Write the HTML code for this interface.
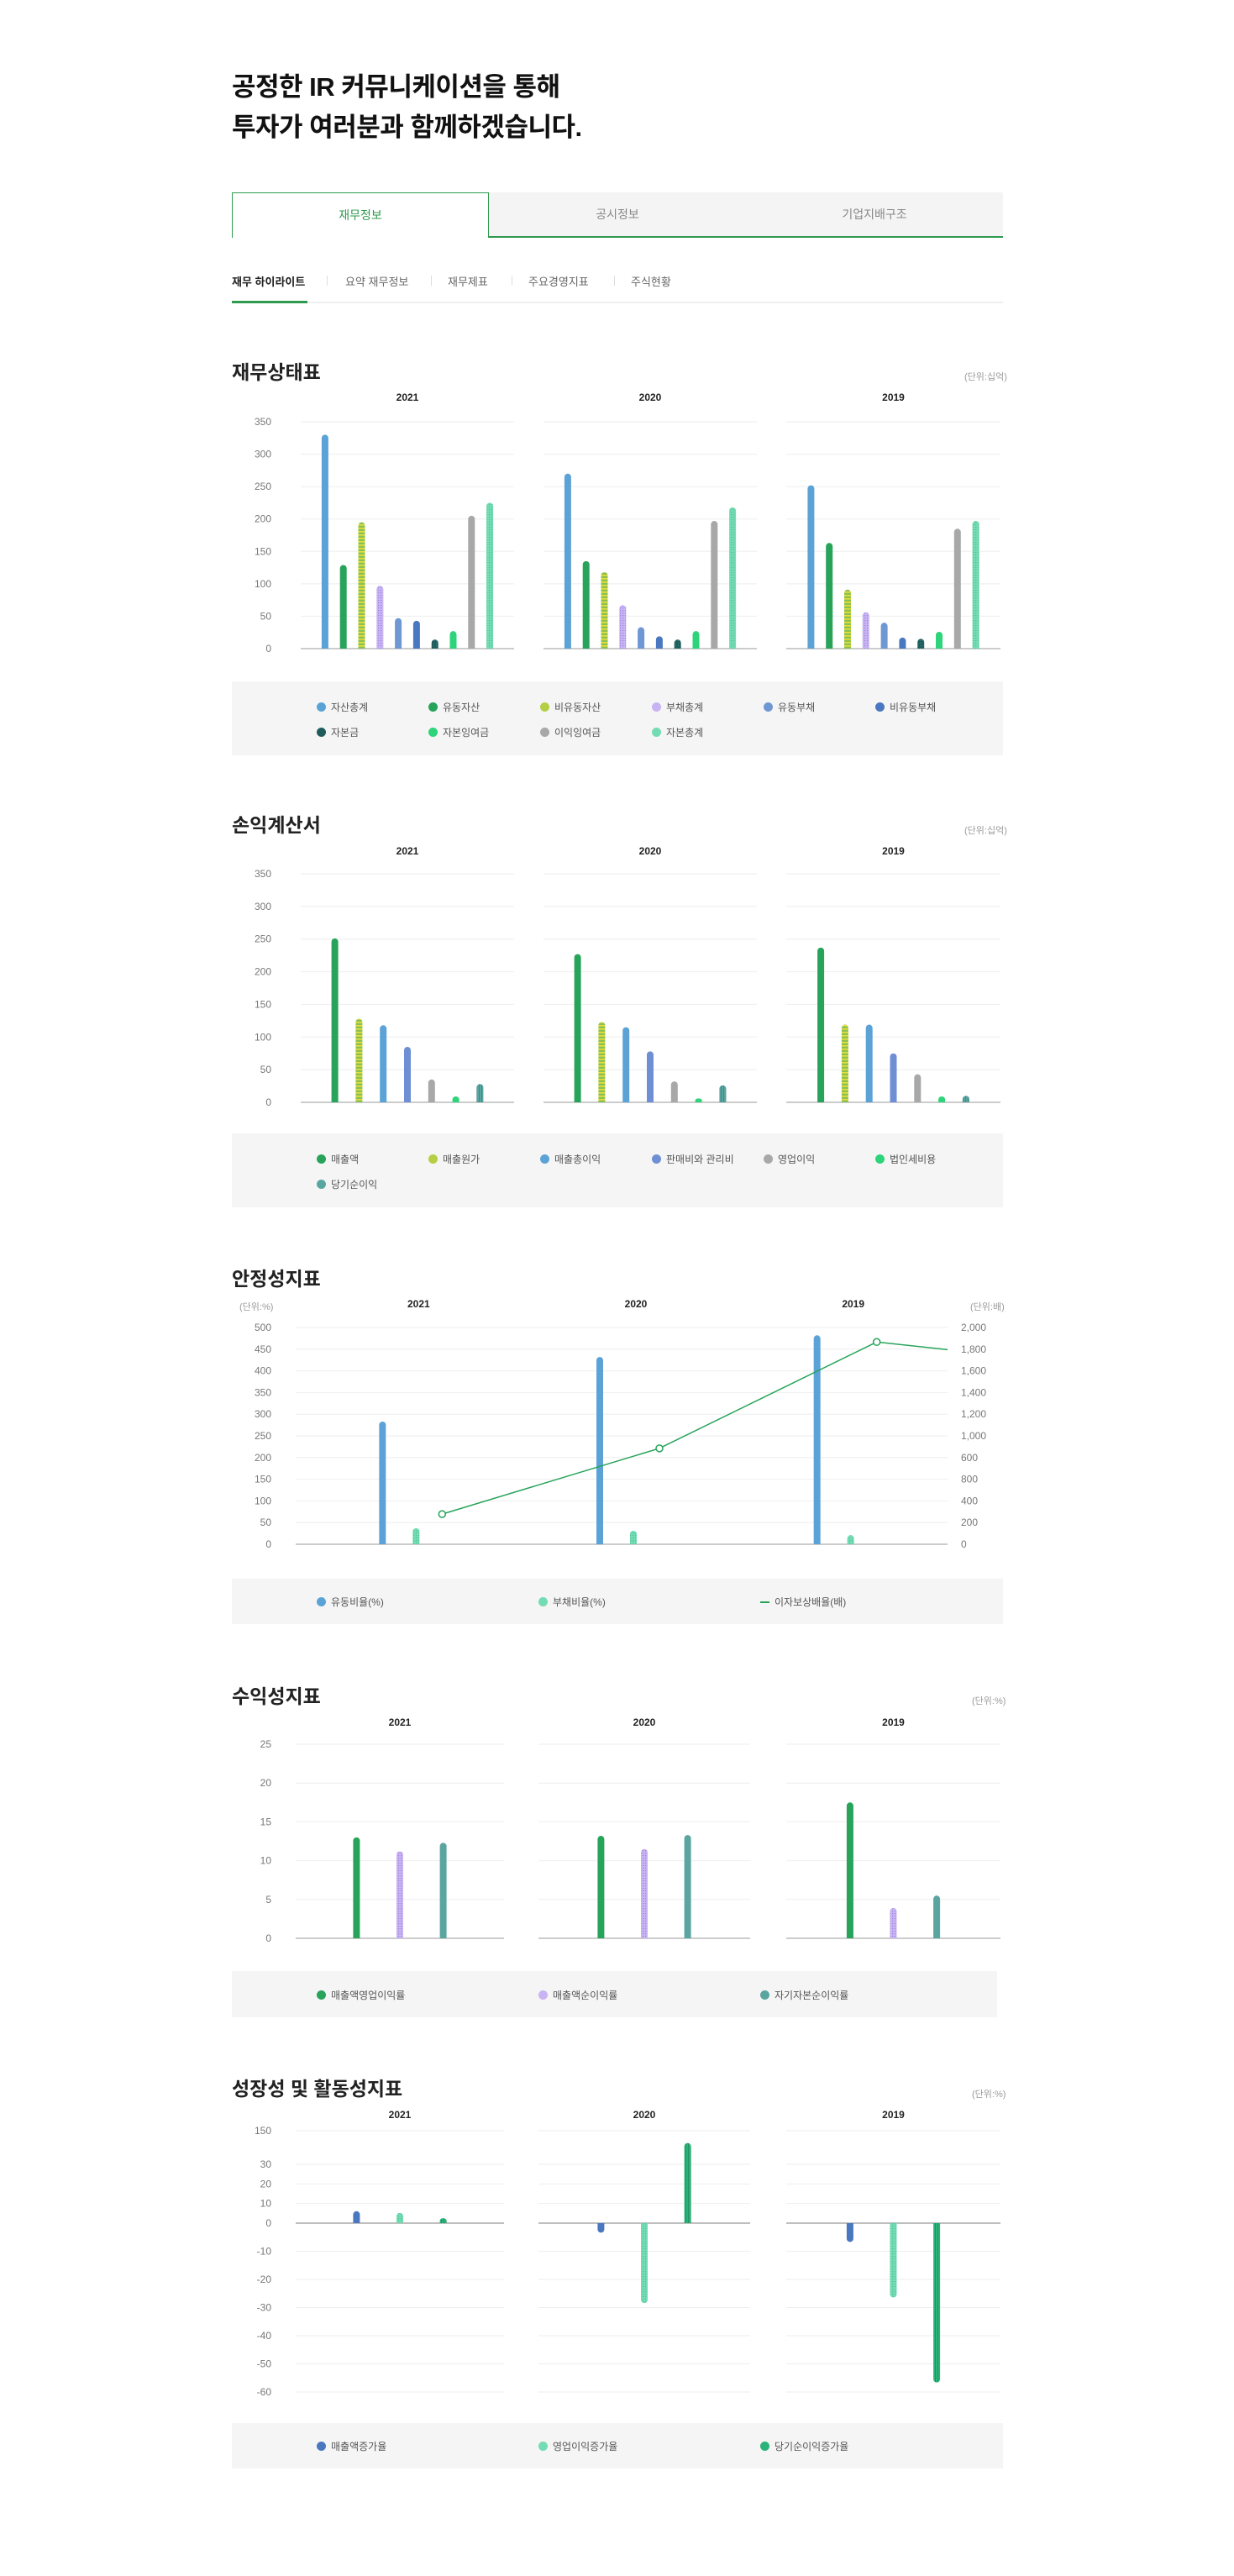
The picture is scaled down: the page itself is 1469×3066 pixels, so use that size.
<!DOCTYPE html>
<html lang="ko"><head><meta charset="utf-8"><title>IR 재무정보</title>
<style>
*{margin:0;padding:0;box-sizing:border-box}
body{width:1469px;height:3066px;background:#fff;font-family:"Liberation Sans","Noto Sans CJK KR",sans-serif;position:relative;overflow:hidden;color:#222}
.abs{position:absolute}
.h1{left:276px;font-size:31px;font-weight:bold;color:#111;letter-spacing:-0.5px;white-space:nowrap}
.tab{position:absolute;top:229px;height:54px;line-height:52px;text-align:center;font-size:14px;color:#888;background:#f4f4f4;border-bottom:2px solid #2e9a4e}
.tab.on{background:#fff;color:#2e9a4e;border:1px solid #2e9a4e;border-bottom:none}
.sub{position:absolute;top:325px;font-size:13px;color:#666;white-space:nowrap}
.sep{position:absolute;top:328px;width:1px;height:12px;background:#ddd}
.stitle{position:absolute;left:276px;font-size:23px;font-weight:bold;color:#222;white-space:nowrap}
.unit{position:absolute;font-size:11px;color:#999;white-space:nowrap}
.legend{position:absolute;left:276px;width:918px;background:#f5f5f5}
.li{position:absolute;font-size:12px;color:#555;white-space:nowrap;line-height:14px}
.li i{display:inline-block;width:11px;height:11px;border-radius:50%;vertical-align:-1px;margin-right:6px}
svg{position:absolute;left:0;top:0}
</style></head><body>
<div class="abs h1" style="top:78px">공정한 IR 커뮤니케이션을 통해</div>
<div class="abs h1" style="top:126px">투자가 여러분과 함께하겠습니다.</div>

<div class="tab on" style="left:276px;width:306px">재무정보</div>
<div class="tab" style="left:582px;width:306px">공시정보</div>
<div class="tab" style="left:888px;width:306px">기업지배구조</div>

<div class="sub" style="left:276px;color:#222;font-weight:bold">재무 하이라이트</div>
<div class="sep" style="left:389px"></div>
<div class="sub" style="left:411px">요약 재무정보</div>
<div class="sep" style="left:513px"></div>
<div class="sub" style="left:533px">재무제표</div>
<div class="sep" style="left:609px"></div>
<div class="sub" style="left:629px">주요경영지표</div>
<div class="sep" style="left:731px"></div>
<div class="sub" style="left:751px">주식현황</div>
<div class="abs" style="left:276px;top:359px;width:918px;height:2px;background:#f0f0f0"></div>
<div class="abs" style="left:276px;top:358px;width:90px;height:3px;background:#2e9a4e"></div>

<div class="stitle" style="top:424px">재무상태표</div>
<div class="unit" style="left:1148px;top:440px">(단위:십억)</div>
<div class="legend" style="top:811px;height:88px"></div>

<div class="stitle" style="top:963px">손익계산서</div>
<div class="unit" style="left:1148px;top:980px">(단위:십억)</div>
<div class="legend" style="top:1349px;height:88px"></div>

<div class="stitle" style="top:1503px">안정성지표</div>
<div class="unit" style="left:285px;top:1547px">(단위:%)</div>
<div class="unit" style="left:1155px;top:1547px">(단위:배)</div>
<div class="legend" style="top:1879px;height:54px"></div>

<div class="stitle" style="top:2000px">수익성지표</div>
<div class="unit" style="left:1157px;top:2016px">(단위:%)</div>
<div class="legend" style="top:2346px;height:55px;width:911px"></div>

<div class="stitle" style="top:2467px">성장성 및 활동성지표</div>
<div class="unit" style="left:1157px;top:2484px">(단위:%)</div>
<div class="legend" style="top:2884px;height:54px"></div>

<svg id="chart" width="1469" height="3066">
<defs>
<pattern id="pStripe" width="8" height="4" patternUnits="userSpaceOnUse"><rect width="8" height="4" fill="#8cc152"/><rect width="8" height="1.6" fill="#e5df3a"/></pattern>
<pattern id="pDotP" width="3" height="3" patternUnits="userSpaceOnUse"><rect width="3" height="3" fill="#c8b4f2"/><rect width="1.2" height="1.2" fill="#9d80e0"/></pattern>
<pattern id="pDotT" width="3" height="3" patternUnits="userSpaceOnUse"><rect width="3" height="3" fill="#74dcb4"/><rect width="1.2" height="1.2" fill="#4cc293"/></pattern>
<pattern id="pDarkT" width="3" height="3" patternUnits="userSpaceOnUse"><rect width="3" height="3" fill="#1f5c5c"/><rect width="1.2" height="1.2" fill="#3c8080"/></pattern>
<pattern id="pVTeal" width="3" height="3" patternUnits="userSpaceOnUse"><rect width="3" height="3" fill="#5aa5a0"/><rect width="1" height="3" fill="#3f8a86"/></pattern>
<pattern id="pVGreen" width="3" height="3" patternUnits="userSpaceOnUse"><rect width="3" height="3" fill="#2bb37a"/><rect width="1" height="3" fill="#1e9662"/></pattern>
</defs>
</svg>

<script>
// ---------- data ----------
const years = ["2021","2020","2019"];

const bsSeries = ["자산총계","유동자산","비유동자산","부채총계","유동부채","비유동부채","자본금","자본잉여금","이익잉여금","자본총계"];
const bs2021 = [330,129,195,97,47,43,14,27,205,225];
const bs2020 = [270,135,118,67,33,19,14,27,197,218];
const bs2019 = [252,163,91,56,40,17,15,26,185,197];
const bsTicks = [0,50,100,150,200,250,300,350];

const isSeries = ["매출액","매출원가","매출총이익","판매비와 관리비","영업이익","법인세비용","당기순이익"];
const is2021 = [251,128,118,85,35,9,28];
const is2020 = [227,123,115,78,32,6,26];
const is2019 = [237,119,119,75,43,9,10];
const isTicks = [0,50,100,150,200,250,300,350];

const stCats = ["2021","2020","2019","2018"];
const stCurrent = [283,432,482];
const stDebt = [37,31,21];
const stCoverage = [278,885,1866,1650];
const stLeftTicks = [0,50,100,150,200,250,300,350,400,450,500];
const stRightTicks = ["0","200","400","800","600","1,000","1,200","1,400","1,600","1,800","2,000"];

const prSeries = ["매출액영업이익률","매출액순이익률","자기자본순이익률"];
const pr2021 = [13.0,11.2,12.3];
const pr2020 = [13.2,11.5,13.3];
const pr2019 = [17.5,3.9,5.5];
const prTicks = [0,5,10,15,20,25];

const grSeries = ["매출액증가율","영업이익증가율","당기순이익증가율"];
const gr2021 = [6.1,5.2,2.5];
const gr2020 = [-3.4,-28.4,106];
const gr2019 = [-6.7,-26.4,-56.6];
const grTicks = [150,30,20,10,0,-10,-20,-30,-40,-50,-60];

// ---------- helpers ----------
const NS="http://www.w3.org/2000/svg";
const svg=document.getElementById('chart');
function mk(tag,attrs){const e=document.createElementNS(NS,tag);for(const k in attrs)e.setAttribute(k,attrs[k]);svg.appendChild(e);return e;}
function linScale(y0,y1,vmax){return v=>y0-(v/vmax)*(y0-y1);}
function bar(x,yTop,yBase,w,fill,name){
  const top=Math.min(yTop,yBase),h=Math.abs(yBase-yTop);
  const r=Math.min(w/2,h/2);
  let d;
  if(yTop<=yBase){d=`M${x-w/2},${yBase}V${top+r}A${w/2},${r} 0 0 1 ${x+w/2},${top+r}V${yBase}Z`;}
  else{d=`M${x-w/2},${yBase}V${yTop-r}A${w/2},${r} 0 0 0 ${x+w/2},${yTop-r}V${yBase}Z`;}
  const p=mk('path',{d:d,fill:fill});
  
  
  return p;
}
function text(x,y,s,size,fill,anchor,weight,name){
  const t=mk('text',{x:x,y:y,'font-size':size,fill:fill,'text-anchor':anchor,'font-weight':weight||'normal','font-family':'"Liberation Sans","Noto Sans CJK KR",sans-serif'});
  t.textContent=s;
  
  
  return t;
}
function hline(x1,x2,y,c,w,name){
  const l=mk('line',{x1:x1,x2:x2,y1:y,y2:y,stroke:c,'stroke-width':w});
  
  
}
function legend(items,colors,cols,top,rowH,stepX,startX){
  items.forEach((s,i)=>{
    const d=document.createElement('div');
    d.className='li';
    
    
    d.style.left=(startX+(i%cols)*stepX)+'px';
    d.style.top=(top+Math.floor(i/cols)*rowH)+'px';
    const m=document.createElement('i');
    
    
    m.style.background=colors[i];
    if(colors[i]==='line'){m.style.background='#27a35a';m.style.height='2px';m.style.borderRadius='0';m.style.verticalAlign='3px';}
    d.appendChild(m);
    d.appendChild(document.createTextNode(s));
    document.body.appendChild(d);
  });
}
const panels=[[358,612],[647,901],[936,1191]];

function panelChart(opt){
  const y=linScale(opt.y0,opt.y1,opt.vmax);
  opt.ticks.forEach(t=>{
    text(323,y(t)+4,String(t),12,'#777','end','normal','y-tick-label');
    panels.forEach(p=>hline(p[0],p[1],y(t),t===0?'#bbb':'#eeeeee',t===0?1.5:1,t===0?'x-axis-line':'gridline'));
  });
  opt.data.forEach((vals,pi)=>{
    const p=panels[pi],cx=(p[0]+p[1])/2;
    text(cx,opt.yearY,years[pi],12,'#222','middle','bold','year-label');
    vals.forEach((v,i)=>{
      const x=cx+(i-(vals.length-1)/2)*opt.step;
      bar(x,y(v),y(0),opt.bw,opt.fills[i],'bar-'+opt.key+'-'+years[pi]+'-'+i);
    });
  });
}

// ---------- chart 1: balance sheet ----------
const bsFills=["#5ba3d6","#27a35a","url(#pStripe)","url(#pDotP)","#6f97d4","#4a78c0","url(#pDarkT)","#2ed47a","#a8a8a8","url(#pDotT)"];
panelChart({y0:772,y1:502,vmax:350,ticks:bsTicks,data:[bs2021,bs2020,bs2019],step:21.8,bw:8,fills:bsFills,yearY:477,key:'bs'});
legend(bsSeries,["#5ba3d6","#27a35a","#b5cf45","#c8b4f2","#6f97d4","#4a78c0","#1f5c5c","#2ed47a","#a8a8a8","#74dcb4"],6,835,30,133,377);

// ---------- chart 2: income statement ----------
const isFills=["#27a35a","url(#pStripe)","#5ba3d6","#6f8fd4","#a8a8a8","#2ed47a","url(#pVTeal)"];
panelChart({y0:1312,y1:1040,vmax:350,ticks:isTicks,data:[is2021,is2020,is2019],step:28.8,bw:8,fills:isFills,yearY:1017,key:'is'});
legend(isSeries,["#27a35a","#b5cf45","#5ba3d6","#6f8fd4","#a8a8a8","#2ed47a","#5aa5a0"],6,1373,30,133,377);

// ---------- chart 3: stability ----------
(function(){
  const x0=352,x1=1128,yb=1838,yt=1580;
  const yl=linScale(yb,yt,500), yr=linScale(yb,yt,2000);
  const band=(x1-x0)/3;
  stLeftTicks.forEach((t,i)=>{
    text(323,yl(t)+4,String(t),12,'#777','end','normal','left-y-tick-label');
    text(1144,yl(t)+4,stRightTicks[i],12,'#777','start','normal','right-y-tick-label');
    hline(x0,x1,yl(t),t===0?'#bbb':'#eeeeee',t===0?1.5:1,t===0?'x-axis-line':'gridline');
  });
  stCurrent.forEach((v,i)=>{
    const cx=x0+band*(i+0.5);
    text(cx+17,1556,stCats[i],12,'#222','middle','bold','year-label');
    bar(cx-26,yl(v),yb,8,'#5ba3d6','bar-current-ratio-'+stCats[i]);
    bar(cx+14,yl(stDebt[i]),yb,8,'url(#pDotT)','bar-debt-ratio-'+stCats[i]);
  });
  const pts=stCoverage.map((v,i)=>[x0+band*(i+0.5)+45,yr(v)]);
  const cp=mk('clipPath',{id:'stClip'});
  const cr=document.createElementNS(NS,'rect');
  cr.setAttribute('x',x0);cr.setAttribute('y',1560);cr.setAttribute('width',x1-x0);cr.setAttribute('height',300);
  cp.appendChild(cr);
  const line=mk('polyline',{points:pts.map(p=>p.join(',')).join(' '),fill:'none',stroke:'#27a35a','stroke-width':1.5,'clip-path':'url(#stClip)'});
  
  
  pts.slice(0,3).forEach((p,i)=>{
    const c=mk('circle',{cx:p[0],cy:p[1],r:4,fill:'#fff',stroke:'#27a35a','stroke-width':1.5});
    
    
  });
  legend(["유동비율(%)","부채비율(%)","이자보상배율(배)"],["#5ba3d6","#74dcb4","line"],3,1900,30,264,377);
})();

// ---------- chart 4: profitability ----------
(function(){
  const pp=[[352,600],[641,893],[936,1191]];
  const y=linScale(2307,2076,25);
  prTicks.forEach(t=>{
    text(323,y(t)+4,String(t),12,'#777','end','normal','y-tick-label');
    pp.forEach(p=>hline(p[0],p[1],y(t),t===0?'#bbb':'#eeeeee',t===0?1.5:1,t===0?'x-axis-line':'gridline'));
  });
  const fills=["#27a35a","url(#pDotP)","#5aa5a0"];
  [pr2021,pr2020,pr2019].forEach((vals,pi)=>{
    const cx=(pp[pi][0]+pp[pi][1])/2;
    text(cx,2054,years[pi],12,'#222','middle','bold','year-label');
    vals.forEach((v,i)=>bar(cx+(i-1)*51.6,y(v),y(0),8,fills[i],'bar-profit-'+years[pi]+'-'+i));
  });
  legend(prSeries,["#27a35a","#c8b4f2","#5aa5a0"],3,2368,30,264,377);
})();

// ---------- chart 5: growth (broken axis) ----------
(function(){
  const pp=[[352,600],[641,893],[936,1191]];
  function y(v){
    if(v>=30) return 2576-(v-30)/120*40;
    if(v>=0) return 2646-v*70/30;
    return 2646-v*3.35;
  }
  grTicks.forEach(t=>{
    text(323,y(t)+4,String(t),12,'#777','end','normal','y-tick-label');
    pp.forEach(p=>hline(p[0],p[1],y(t),t===0?'#aaa':'#eeeeee',t===0?1.5:1,t===0?'x-axis-line':'gridline'));
  });
  const fills=["#4a78c0","url(#pDotT)","url(#pVGreen)"];
  [gr2021,gr2020,gr2019].forEach((vals,pi)=>{
    const cx=(pp[pi][0]+pp[pi][1])/2;
    text(cx,2521,years[pi],12,'#222','middle','bold','year-label');
    vals.forEach((v,i)=>bar(cx+(i-1)*51.6,y(v),y(0),8,fills[i],'bar-growth-'+years[pi]+'-'+i));
  });
  legend(grSeries,["#4a78c0","#74dcb4","#2bb37a"],3,2905,30,264,377);
})();
</script>
</body></html>
